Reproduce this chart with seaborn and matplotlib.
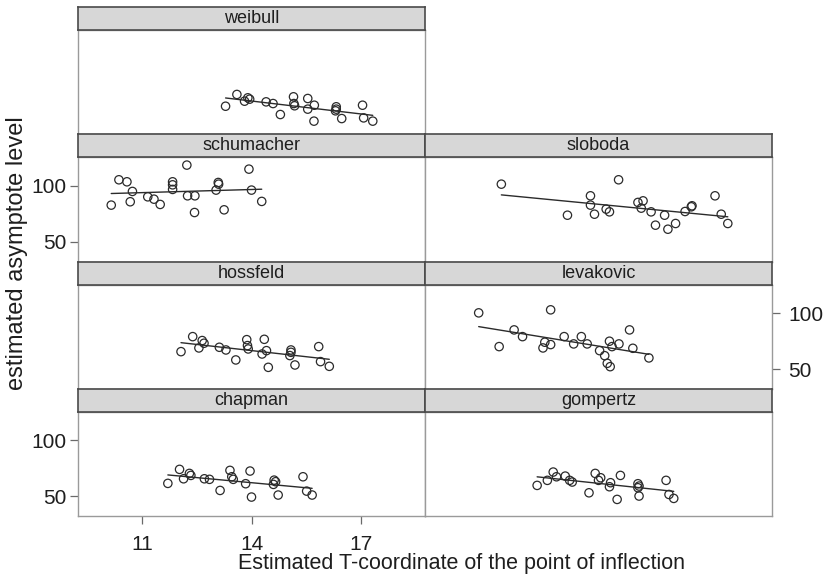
import numpy as np
import pandas as pd
import matplotlib
matplotlib.use("Agg")
import matplotlib.pyplot as plt
import seaborn as sns

# Estimated inflection-point T-coordinate (x) and asymptote level (y) per growth model
weibull_x = [13.29, 13.60, 13.81, 13.90, 13.95, 14.40, 14.59, 14.79, 15.15, 15.16, 15.18,
             15.54, 15.54, 15.72, 15.71, 16.32, 16.32, 16.30, 16.47, 17.04, 17.07, 17.32]
weibull_y = [57.5, 68.0, 62.0, 65.0, 63.8, 61.4, 59.9, 50.1, 65.9, 59.9, 57.9,
             64.4, 54.9, 58.4, 44.2, 57.0, 54.9, 53.4, 46.5, 58.4, 47.1, 44.2]

schumacher_x = [10.16, 10.37, 10.59, 10.74, 10.68, 11.16, 11.33, 11.50, 11.84, 11.84, 11.84,
                12.23, 12.25, 12.45, 12.44, 13.09, 13.10, 13.03, 13.25, 13.93, 14.00, 14.28]
schumacher_y = [82.8, 105.4, 103.6, 95.0, 85.8, 90.2, 88.1, 83.4, 103.6, 100.9, 96.8,
                118.5, 91.1, 91.1, 76.2, 103.0, 101.5, 96.2, 78.6, 114.9, 96.2, 86.1]

sloboda_x = [11.34, 13.15, 13.78, 13.78, 13.89, 14.21, 14.30, 14.55, 15.08, 15.22, 15.17,
             15.44, 15.56, 15.81, 15.90, 16.11, 16.37, 16.54, 16.56, 17.19, 17.36, 17.54]
sloboda_y = [101.5, 73.8, 91.1, 82.8, 74.7, 79.2, 76.8, 105.4, 85.2, 86.6, 80.1,
             76.8, 64.9, 73.8, 61.3, 66.4, 77.1, 81.3, 82.2, 91.1, 74.7, 66.4]

hossfeld_x = [12.07, 12.39, 12.56, 12.65, 12.70, 13.12, 13.30, 13.57, 13.87, 13.89, 13.91,
              14.35, 14.41, 14.29, 14.46, 15.08, 15.08, 15.05, 15.19, 15.84, 15.89, 16.13]
hossfeld_y = [65.6, 79.0, 68.9, 75.5, 73.1, 69.5, 67.1, 58.2, 76.3, 71.0, 68.0,
              76.6, 66.5, 63.5, 51.6, 67.1, 65.0, 62.1, 53.7, 70.1, 56.7, 52.5]

levakovic_x = [10.72, 11.28, 11.69, 11.92, 12.48, 12.53, 12.69, 12.69, 13.06, 13.32, 13.53,
               13.69, 14.03, 14.17, 14.24, 14.32, 14.30, 14.37, 14.56, 14.85, 14.94, 15.38]
levakovic_y = [100.2, 70.1, 85.0, 79.0, 68.9, 74.0, 102.9, 71.9, 79.0, 72.5, 79.0,
               72.5, 66.5, 62.0, 55.2, 52.2, 74.9, 70.1, 72.5, 85.0, 68.6, 60.0]

chapman_x = [11.71, 12.03, 12.14, 12.30, 12.34, 12.71, 12.85, 13.14, 13.41, 13.46, 13.50,
             13.84, 13.96, 14.00, 14.62, 14.66, 14.60, 14.73, 15.41, 15.51, 15.66]
chapman_y = [61.6, 74.1, 65.7, 70.5, 68.7, 65.7, 65.2, 55.3, 73.2, 67.5, 65.2,
             61.3, 72.6, 49.4, 64.5, 63.1, 60.7, 51.2, 67.5, 54.7, 51.2]

gompertz_x = [12.32, 12.60, 12.76, 12.85, 13.09, 13.21, 13.28, 13.74, 13.91, 14.00, 14.06,
              14.33, 14.30, 14.51, 14.60, 15.08, 15.11, 15.08, 15.11, 15.85, 15.93, 16.06]
gompertz_y = [59.8, 64.3, 71.7, 67.5, 68.1, 64.3, 62.8, 53.2, 70.5, 64.3, 66.6,
              62.2, 58.6, 47.3, 68.7, 61.3, 59.2, 57.7, 50.3, 64.3, 51.7, 48.2]

x_ticks = [11, 14, 17]
y_ticks = [50, 100]
x_label = "Estimated T-coordinate of the point of inflection"
y_label = "estimated asymptote level"

frames = []
for name, xs, ys in [
    ("weibull", weibull_x, weibull_y),
    ("schumacher", schumacher_x, schumacher_y),
    ("sloboda", sloboda_x, sloboda_y),
    ("hossfeld", hossfeld_x, hossfeld_y),
    ("levakovic", levakovic_x, levakovic_y),
    ("chapman", chapman_x, chapman_y),
    ("gompertz", gompertz_x, gompertz_y),
]:
    frames.append(pd.DataFrame({"model": name, "tinf": xs, "asym": ys}))
df = pd.concat(frames, ignore_index=True)

sns.set_theme(style="white")
plt.rcParams["font.family"] = ["Liberation Sans", "DejaVu Sans"]

W, H = 825, 588
fig = plt.figure(figsize=(W / 100, H / 100), dpi=100)
fig.patch.set_facecolor("white")


def rect(x0, y0, x1, y1):
    return [x0 / W, 1 - y1 / H, (x1 - x0) / W, (y1 - y0) / H]


col_edges = [(78, 425), (425, 772)]
row_top0, row_pitch, strip_h = 7.0, 127.25, 23.0

# (model, row, column, tick side) in a lattice-style layout
layout = [
    ("weibull", 0, 0, None),
    ("schumacher", 1, 0, "left"),
    ("sloboda", 1, 1, None),
    ("hossfeld", 2, 0, None),
    ("levakovic", 2, 1, "right"),
    ("chapman", 3, 0, "left"),
    ("gompertz", 3, 1, None),
]

ink = "#2b2b2b"
frame_col = "#9a9a9a"
for name, r, c, yside in layout:
    x0, x1 = col_edges[c]
    top = row_top0 + r * row_pitch
    strip_bot = top + strip_h
    bot = top + row_pitch

    ax = fig.add_axes(rect(x0, strip_bot, x1, bot))
    sub = df[df["model"] == name]
    sns.regplot(data=sub, x="tinf", y="asym", ax=ax, ci=None, truncate=True,
                color=ink, marker="o",
                scatter_kws=dict(facecolors="none", s=36, linewidths=0.9, alpha=1, zorder=3),
                line_kws=dict(lw=1.0, zorder=2))
    ax.set_xlim(9.25, 18.75)
    ax.set_ylim(32.5, 125.5)
    ax.set_xlabel("")
    ax.set_ylabel("")
    for s in ax.spines.values():
        s.set_color(frame_col)
        s.set_linewidth(1.0)
    ax.set_facecolor("white")

    ax.tick_params(axis="both", length=5.5, width=0.9, color="#6a6a6a",
                   labelsize=15, labelcolor="#1e1e1e", direction="out",
                   bottom=False, left=False, right=False, top=False)
    if yside == "left":
        ax.set_yticks(y_ticks)
        ax.tick_params(axis="y", left=True, labelleft=True, right=False,
                       labelright=False, pad=3)
    elif yside == "right":
        ax.set_yticks(y_ticks)
        ax.tick_params(axis="y", right=True, labelright=True, left=False,
                       labelleft=False, pad=6)
    else:
        ax.set_yticks([])
    if name == "chapman":
        ax.set_xticks(x_ticks)
        ax.tick_params(axis="x", bottom=True, labelbottom=True, pad=8)
    else:
        ax.set_xticks([])

    # strip with the model name
    sax = fig.add_axes(rect(x0, top, x1, strip_bot))
    sax.set_facecolor("#d7d7d7")
    sax.set_xticks([])
    sax.set_yticks([])
    for s in sax.spines.values():
        s.set_color("#4a4a4a")
        s.set_linewidth(1.2)
    sax.text(0.5, 0.5, name, ha="center", va="center", fontsize=13,
             color="#1e1e1e", transform=sax.transAxes)

fig.text(461 / W, 1 - 563 / H, x_label, ha="center", va="center",
         fontsize=15.5, color="#1e1e1e")
fig.text(17 / W, 1 - 253 / H, y_label, ha="center", va="center",
         rotation=90, fontsize=17, color="#1e1e1e")

fig.savefig("out.png", dpi=100, facecolor="white")
